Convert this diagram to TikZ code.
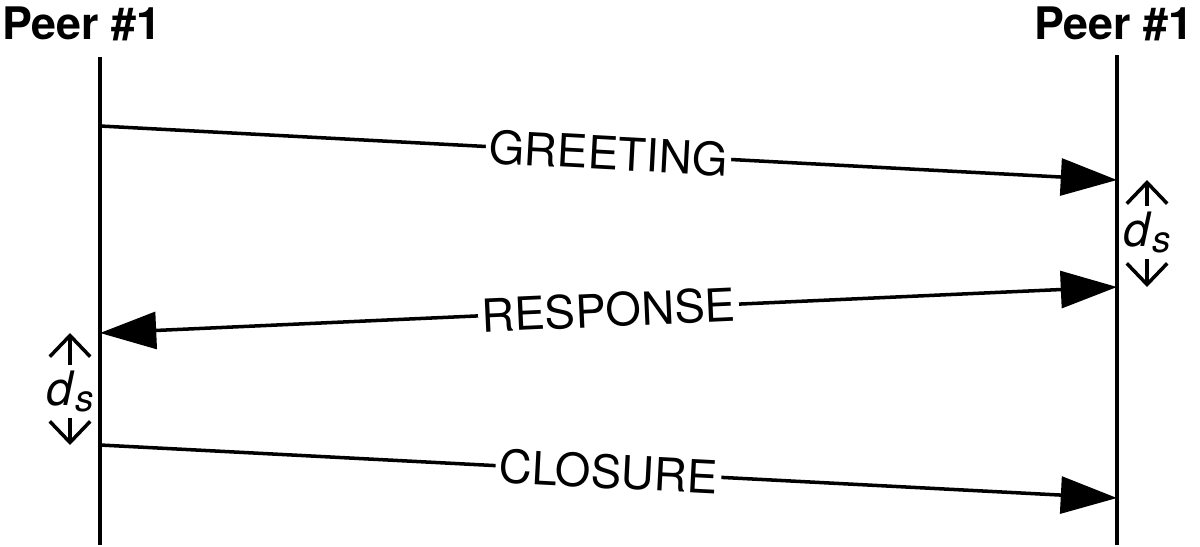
\documentclass[tikz,border=0pt]{standalone}
\usepackage{fontspec}
\setmainfont{TeX Gyre Heros}
\usetikzlibrary{arrows.meta}

\begin{document}
\begin{tikzpicture}[x=0.02cm,y=-0.02cm,
  life/.style={line width=2.2pt},
  msg/.style={line width=2pt,-{Triangle[length=32pt,width=21pt]}},
  bimsg/.style={line width=2pt,{Triangle[length=32pt,width=21pt]}-{Triangle[length=32pt,width=21pt]}},
  lbl/.style={fill=white,inner sep=2pt,sloped,font=\fontsize{26}{30}\selectfont},
  peer/.style={anchor=base,font=\fontsize{25.5}{29}\selectfont\bfseries},
  dsep/.style={font=\fontsize{27}{30}\selectfont,inner sep=3pt},
  span/.style={line width=2pt,-{Straight Barb[length=12pt,width=23pt]}}]
 \useasboundingbox (0,0) rectangle (1200,547);

 \node[peer] (P1) at (81.5,40) {Peer \#1};
 \node[peer] (P2) at (1113.5,40) {Peer \#1};

 \coordinate (L1) at (100,57);
 \coordinate (L1e) at (100,545);
 \coordinate (L2) at (1117,55);
 \coordinate (L2e) at (1117,545);

 \coordinate (G1) at (100,126);
 \coordinate (G2) at (1117,180);
 \coordinate (R1) at (1117,287);
 \coordinate (R2) at (100,333);
 \coordinate (C1) at (100,445);
 \coordinate (C2) at (1117,498);

 \node[dsep] (DS2) at (1147,232.5) {\textit{d}\raisebox{-3.5pt}{\fontsize{21}{22}\selectfont\itshape s}};
 \node[dsep] (DS1) at (70,391.5) {\textit{d}\raisebox{-3.5pt}{\fontsize{21}{22}\selectfont\itshape s}};

 \path[life] (L1) edge (L1e) (L2) edge (L2e);

 \path[msg] (G1) edge node[lbl] {GREETING} (G2);
 \path[bimsg] (R2) edge node[lbl] {RESPONSE} (R1);
 \path[msg] (C1) edge node[lbl] {CLOSURE} (C2);

 \path[span] (DS2) edge (DS2 |- G2) (DS2) edge (DS2 |- R1);
 \path[span] (DS1) edge (DS1 |- R2) (DS1) edge (DS1 |- C1);
\end{tikzpicture}
\end{document}
